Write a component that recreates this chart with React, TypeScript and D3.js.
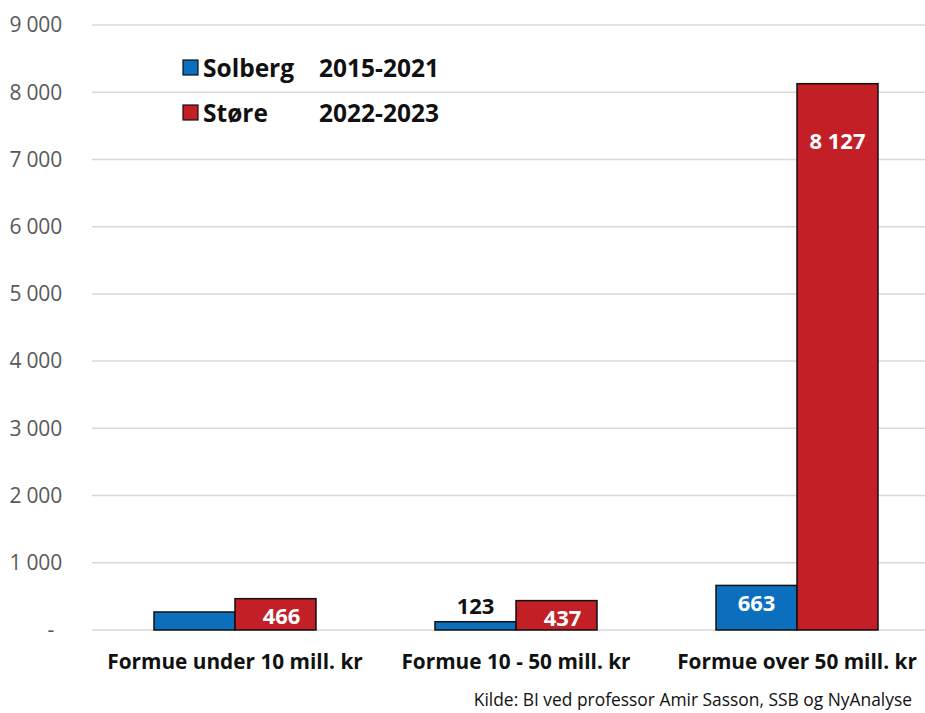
import React from "react";
import * as d3 from "d3";

const categories = ["Formue under 10 mill. kr", "Formue 10 - 50 mill. kr", "Formue over 50 mill. kr"];
const seriesNames = ["Solberg", "Støre"];
const seriesPeriods = ["2015-2021", "2022-2023"];
const solberg = [268, 123, 663];
const store = [466, 437, 8127];
const solbergLabels = ["", "123", "663"];
const storeLabels = ["466", "437", "8 127"];
const yTicks = [0, 1000, 2000, 3000, 4000, 5000, 6000, 7000, 8000, 9000];
const source = "Kilde: BI ved professor Amir Sasson, SSB og NyAnalyse";

const W = 925, H = 713;
const BLUE = "#0b6fbd";
const RED = "#c21f27";
const FONT = "'Open Sans', Lato, sans-serif";

export default function App() {
  const y = d3.scaleLinear().domain([0, 9000]).range([630, 25]);
  const x = d3.scaleBand().domain(categories).range([94.5, 937.5]).paddingInner(0).paddingOuter(0);
  const inner = d3.scaleBand().domain(seriesNames).range([0, 162]);
  const fmt = (v: number) => (v === 0 ? "-" : d3.format(",")(v).replace(/,/g, " "));
  const values = [solberg, store];
  const labels = [solbergLabels, storeLabels];
  const colors = [BLUE, RED];

  return (
    <svg width={W} height={H} style={{ position: "absolute", left: 0, top: 0, background: "#fff" }} fontFamily={FONT}>
      {yTicks.map((t) => (
        <g key={t}>
          <line x1={92} x2={925} y1={y(t)} y2={y(t)} stroke="#d9d9d9" strokeWidth={1.5} />
          <text x={t === 0 ? 54 : 62} y={y(t)} dy="0.35em" textAnchor="end" fontSize={21} fill="#595959" letterSpacing={-0.2}>
            {fmt(t)}
          </text>
        </g>
      ))}
      {categories.map((c, ci) => {
        const cx = (x(c) as number) + x.bandwidth() / 2;
        const start = cx - 81;
        return (
          <g key={c}>
            {values.map((vals, si) => {
              const bx = start + (inner(seriesNames[si]) as number);
              const bw = inner.bandwidth();
              const top = y(vals[ci]);
              const lab = labels[si][ci];
              const h = y(0) - top;
              const inside = h > 28;
              const big = vals[ci] > 5000;
              return (
                <g key={si}>
                  <rect x={bx} y={top} width={bw} height={h} fill={colors[si]} stroke="#111" strokeWidth={1.5} />
                  {lab && (
                    <text
                      x={bx + bw / 2 + (si === 1 && !big ? 6 : 0)}
                      y={inside ? top + (big ? 58 : 18) : top - 8}
                      dy={inside ? "0.35em" : "0"}
                      textAnchor="middle"
                      fontSize={22}
                      fontWeight="bold"
                      fill={inside ? "#fff" : "#111"}
                    >
                      {lab}
                    </text>
                  )}
                </g>
              );
            })}
            <text x={cx} y={669} textAnchor="middle" fontSize={20.8} fontWeight="bold" fill="#111">
              {c}
            </text>
          </g>
        );
      })}
      {seriesNames.map((s, i) => (
        <g key={s} transform={`translate(183, ${60 + i * 45})`}>
          <rect x={0} y={0} width={15} height={15} fill={colors[i]} stroke="#111" strokeWidth={1.2} />
          <text x={20} y={8} dy="0.35em" fontSize={24.5} fontWeight="bold" fill="#111">{s}</text>
          <text x={136} y={8} dy="0.35em" fontSize={24.5} fontWeight="bold" fill="#111">{seriesPeriods[i]}</text>
        </g>
      ))}
      <text x={912} y={706} textAnchor="end" fontSize={17.4} fill="#111">{source}</text>
    </svg>
  );
}
